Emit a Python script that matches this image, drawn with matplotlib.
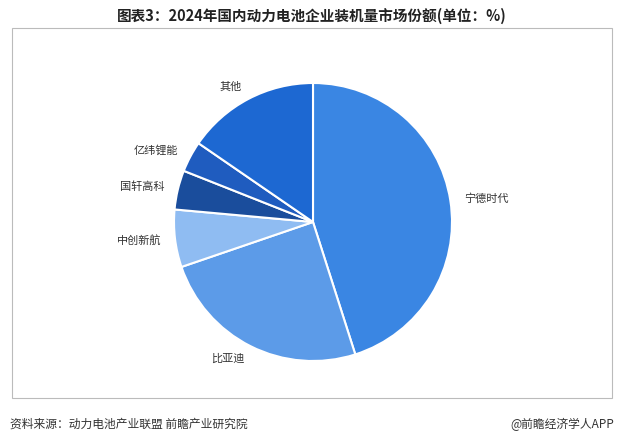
import matplotlib.pyplot as plt
from matplotlib.patches import Rectangle

plt.rcParams['font.family'] = ['Noto Sans CJK SC', 'DejaVu Sans']

names = ['宁德时代', '比亚迪', '中创新航', '国轩高科', '亿纬锂能', '其他']
shares = [45.08, 24.68, 6.68, 4.56, 3.59, 15.41]
colors = ['#3a86e3', '#5c9be8', '#8fbcf2', '#1a4d9c', '#1f5cbf', '#1d68d2']

fig = plt.figure(figsize=(6.24, 4.45), dpi=100)
fig.patch.set_facecolor('white')

# border box
fig.add_artist(Rectangle((12/624, 1-398/445), 600/624, 370/445, transform=fig.transFigure,
                         fill=False, edgecolor='#bbbbbb', lw=0.8))

fig.text(0.5, 1-16/445, '图表3：2024年国内动力电池企业装机量市场份额(单位：%)',
         ha='center', va='center', fontsize=10.5, fontweight='bold', color='#222222')
fig.text(10/624, 1-424/445, '资料来源：动力电池产业联盟 前瞻产业研究院', ha='left', va='center',
         fontsize=8.5, color='#333333')
fig.text(614/624, 1-424/445, '@前瞻经济学人APP', ha='right', va='center',
         fontsize=8.5, color='#333333')

cx, cy, r = 313/624, 1-222/445, 139
ax = fig.add_axes([cx - r/624, cy - r/445, 2*r/624, 2*r/445])
wedges, texts = ax.pie(shares, labels=names, colors=colors, startangle=90, counterclock=False,
                       labeldistance=1.1, wedgeprops=dict(edgecolor='white', linewidth=1.5),
                       textprops=dict(fontsize=8, color='#333333'))
ax.set_xlim(-1, 1)
ax.set_ylim(-1, 1)
ax.set_aspect('equal')

fig.savefig('out.png', dpi=100)
